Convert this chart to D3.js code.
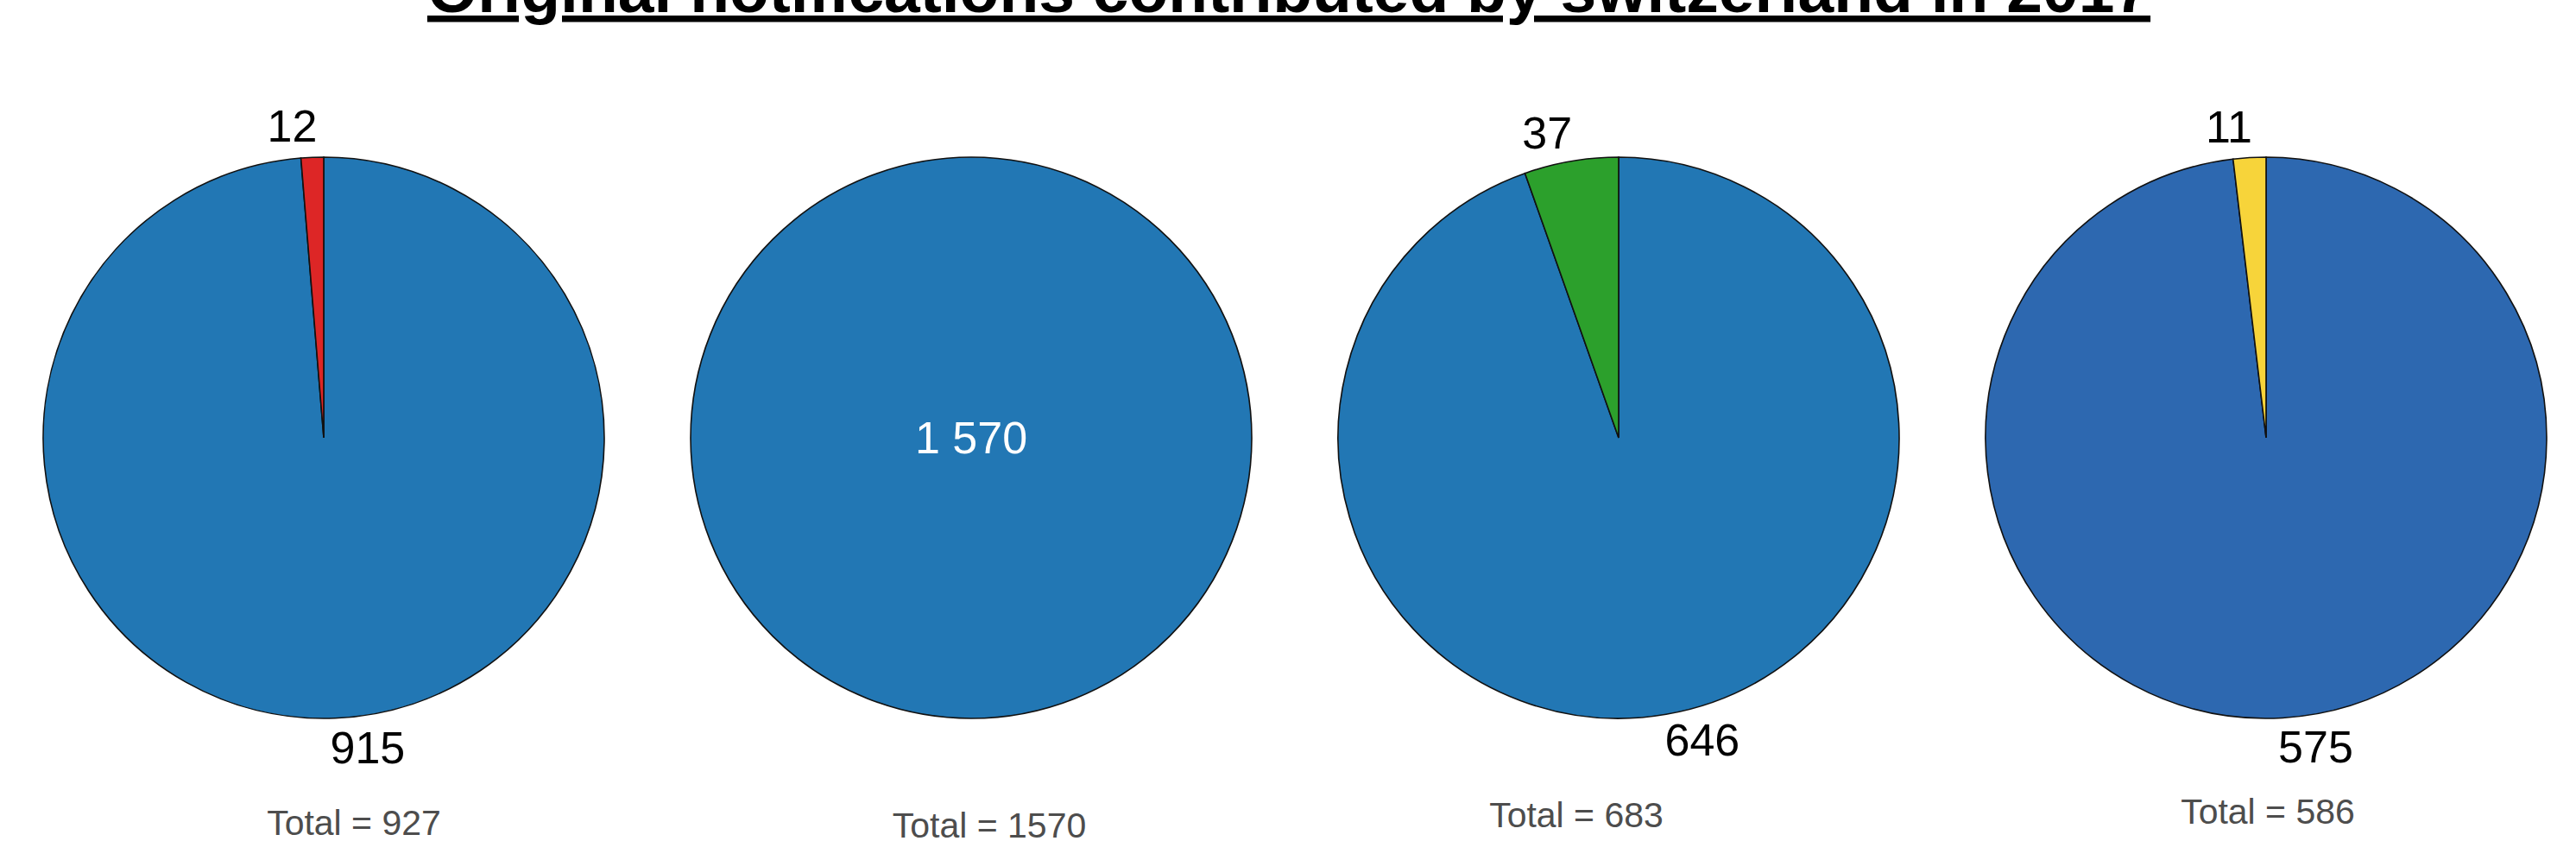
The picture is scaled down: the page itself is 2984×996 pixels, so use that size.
<!DOCTYPE html>
<html>
<head>
<meta charset="utf-8">
<script src="https://cdn.jsdelivr.net/npm/d3@7"></script>
<style>
  body { margin: 0; background: #fff; }
  text { font-family: "Liberation Sans", Arial, sans-serif; }
</style>
</head>
<body>
<svg id="chart"></svg>
<script>
// data
var titleText = "Original notifications contributed by switzerland in 2017";
var panels = ["p1", "p2", "p3", "p4"];
var mainCounts = [915, 1570, 646, 575];
var otherCounts = [12, 0, 37, 11];

// styles
var mainColors = ["#2277b4", "#2277b4", "#2277b4", "#2d68b0"];
var otherColors = ["#dd2626", "#dd2626", "#2ca02c", "#f7d43a"];
// small per-panel nudge of the "Total" caption (dx, baseline)
var captionNudge = [[35, 967], [21, 970], [-49, 958], [2, 954]];

var W = 2984, H = 996;
var svg = d3.select("#chart").attr("width", W).attr("height", H);
svg.append("rect").attr("width", W).attr("height", H).attr("fill", "#fff");

svg.append("text")
  .attr("x", 1493).attr("y", 14)
  .attr("text-anchor", "middle")
  .style("font-size", "75px").style("font-weight", "bold")
  .style("text-decoration", "underline")
  .text(titleText);

var x = d3.scaleBand().domain(panels).range([0, 3000]);
var cy = 507, r = 325, labelR = 363;

var fmt = d3.formatLocale({decimal: ".", thousands: " ", grouping: [3], currency: ["", ""]}).format(",d");

var pie = d3.pie().sort(null).value(d => d.v);
var arc = d3.arc().innerRadius(0).outerRadius(r);

panels.forEach(function(p, i){
  var slices = [{v: mainCounts[i], c: mainColors[i]}];
  if (otherCounts[i] > 0) slices.push({v: otherCounts[i], c: otherColors[i]});
  var cx = x(p) + x.bandwidth() / 2;
  var g = svg.append("g").attr("transform", `translate(${cx}, ${cy})`);
  var arcs = pie(slices);

  g.selectAll("path").data(arcs).join("path")
    .attr("d", arc)
    .attr("fill", d => d.data.c)
    .attr("stroke", "#111")
    .attr("stroke-width", 1.6);

  if (arcs.length === 1) {
    g.append("text")
      .attr("x", 0).attr("y", 0)
      .attr("text-anchor", "middle").attr("dominant-baseline", "central")
      .attr("fill", "#fff")
      .style("font-size", "52px")
      .text(fmt(arcs[0].data.v));
  } else {
    g.selectAll(".lab").data(arcs).join("text")
      .attr("class", "lab")
      .attr("x", d => {
        var a = (d.startAngle + d.endAngle) / 2 - (d.index === 0 ? 0.1 : 0.06);
        return labelR * Math.sin(a);
      })
      .attr("y", d => {
        var a = (d.startAngle + d.endAngle) / 2 - (d.index === 0 ? 0.1 : 0.06);
        return -labelR * Math.cos(a);
      })
      .attr("text-anchor", "middle").attr("dominant-baseline", "central")
      .attr("fill", "#000")
      .style("font-size", "52px")
      .text(d => fmt(d.data.v));
  }

  svg.append("text")
    .attr("x", cx + captionNudge[i][0]).attr("y", captionNudge[i][1])
    .attr("text-anchor", "middle")
    .attr("fill", "#4d4d4d")
    .style("font-size", "41px")
    .text("Total = " + d3.sum(slices, d => d.v));
});
</script>
</body>
</html>
